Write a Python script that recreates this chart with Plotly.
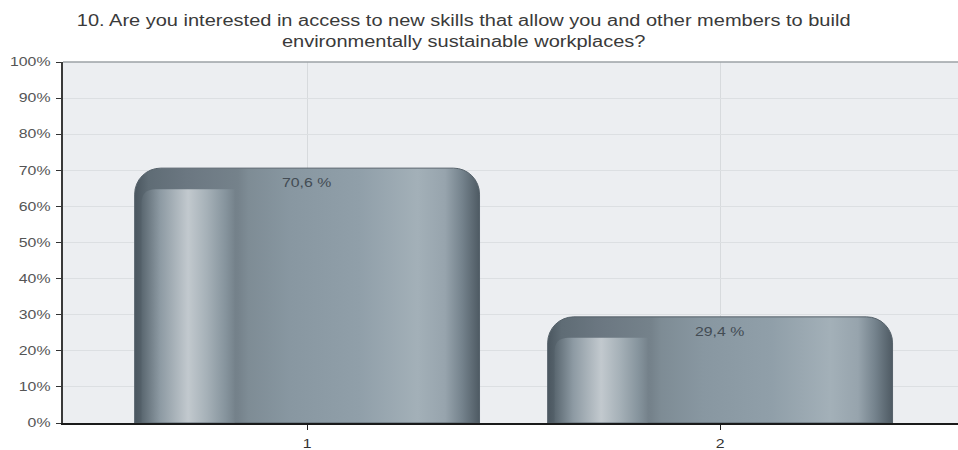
import plotly.graph_objects as go

# Survey question 10: share of answers per option
title_lines = [
    "10. Are you interested in access to new skills that allow you and other members to build",
    "environmentally sustainable workplaces?",
]
categories = [1, 2]
shares = [70.6, 29.4]
y_ticks = [0, 10, 20, 30, 40, 50, 60, 70, 80, 90, 100]
y_tick_labels = [f"{t}%" for t in y_ticks]

FONT = "Liberation Sans, Arial, sans-serif"

fig = go.Figure()
fig.add_trace(go.Bar(
    x=categories,
    y=shares,
    width=0.835,
    marker=dict(color="#8a99a3", line=dict(color="#56626b", width=1), cornerradius=26),
    hoverinfo="skip",
))

# value labels just under the top of each bar, with a decimal comma
for c, v in zip(categories, shares):
    fig.add_annotation(
        x=c, y=v, xref="x", yref="y",
        text=f"{v:.1f}".replace(".", ",") + " %",
        showarrow=False, yanchor="top", yshift=-6,
        font=dict(family=FONT, size=12, color="#434c54"),
    )

fig.update_layout(
    width=958,
    height=450,
    margin=dict(l=63, r=0, t=62, b=27),
    paper_bgcolor="white",
    plot_bgcolor="#eceef1",
    showlegend=False,
    title=dict(
        text="<br>".join(title_lines),
        x=0.484, xref="container", xanchor="center",
        y=1 - 26 / 450, yref="container", yanchor="middle",
        font=dict(family=FONT, size=16, color="#3a3a3a"),
    ),
    font=dict(family=FONT, size=12, color="#555555"),
    shapes=[dict(type="line", xref="paper", yref="paper", x0=0, x1=1, y0=1, y1=1,
                 line=dict(color="#9da2a6", width=1.5), layer="above")],
)
fig.update_xaxes(
    range=[0.409, 2.576],
    tickvals=categories,
    ticktext=[str(c) for c in categories],
    ticks="outside", ticklen=5, tickcolor="#222222",
    ticklabelstandoff=4,
    showline=True, linecolor="#1a1a1a", linewidth=1.5,
    showgrid=True, gridcolor="#d7dadd", gridwidth=1,
    zeroline=False,
    tickfont=dict(color="#333333", size=12),
    fixedrange=True,
)
fig.update_yaxes(
    range=[0, 100],
    tickvals=y_ticks,
    ticktext=y_tick_labels,
    ticks="outside", ticklen=5, tickcolor="#333333",
    ticklabelstandoff=3,
    showline=True, linecolor="#3a3a3a", linewidth=2,
    showgrid=True, gridcolor="#dcdfe2", gridwidth=1,
    zeroline=False,
    tickfont=dict(color="#555555", size=12),
    fixedrange=True,
)

# Metallic cylinder shading of the bars (horizontal gradients plus a lighter
# inner panel), and a slightly widened lettering for all texts.
post_js = """
(function(){
  var gd = document.getElementById('{plot_id}');
  var ns = 'http://www.w3.org/2000/svg';
  var svg = gd.querySelector('.main-svg');
  var defs = svg.querySelector('defs') || svg.insertBefore(document.createElementNS(ns,'defs'), svg.firstChild);
  function addGrad(id, stops){
    var g = document.createElementNS(ns, 'linearGradient');
    g.setAttribute('id', id);
    g.setAttribute('x1', '0'); g.setAttribute('x2', '1');
    g.setAttribute('y1', '0'); g.setAttribute('y2', '0');
    stops.forEach(function(s){
      var st = document.createElementNS(ns, 'stop');
      st.setAttribute('offset', s[0]);
      st.setAttribute('stop-color', s[1]);
      g.appendChild(st);
    });
    defs.appendChild(g);
  }
  addGrad('barMetal', [[0,'#4a565f'],[0.04,'#5f6c75'],[0.15,'#6b7781'],[0.30,'#75828b'],
                       [0.33,'#7e8c95'],[0.45,'#8897a1'],[0.65,'#909fa9'],[0.82,'#a3b0b8'],
                       [0.90,'#97a4ad'],[0.95,'#74828c'],[1,'#4e5a63']]);
  addGrad('barInner', [[0,'#5a6770'],[0.2,'#8d9aa3'],[0.5,'#c2c9ce'],[0.7,'#a6b1b8'],
                       [0.9,'#86949d'],[1,'#76838c']]);
  gd.querySelectorAll('.barlayer .point path').forEach(function(p){
    p.style.fill = 'url(#barMetal)';
    var b = p.getBBox();
    var x0 = b.x + 0.02 * b.width, x1 = b.x + 0.29 * b.width;
    var y0 = b.y + 21, y1 = b.y + b.height - 0.5, r = 14;
    var inner = document.createElementNS(ns, 'path');
    inner.setAttribute('d', 'M' + x0 + ',' + y1 + 'L' + x0 + ',' + (y0 + r) +
      'Q' + x0 + ',' + y0 + ' ' + (x0 + r) + ',' + y0 + 'L' + x1 + ',' + y0 + 'L' + x1 + ',' + y1 + 'Z');
    inner.setAttribute('fill', 'url(#barInner)');
    p.parentNode.insertBefore(inner, p.nextSibling);
  });
  function stretch(t, k){
    var bb = t.getBBox();
    if (!bb.width) return;
    var a = t.getAttribute('text-anchor') || window.getComputedStyle(t).textAnchor || 'start';
    var ox = a === 'end' ? bb.x + bb.width : (a === 'middle' ? bb.x + bb.width / 2 : bb.x);
    var tr = t.getAttribute('transform') || '';
    t.setAttribute('transform', tr + ' translate(' + ox + ',0) scale(' + k + ',1) translate(' + (-ox) + ',0)');
  }
  gd.querySelectorAll('svg.main-svg text').forEach(function(t){
    stretch(t, t.classList.contains('gtitle') ? 1.25 : 1.32);
  });
})();
"""

fig.write_html("out.html", post_script=post_js)
